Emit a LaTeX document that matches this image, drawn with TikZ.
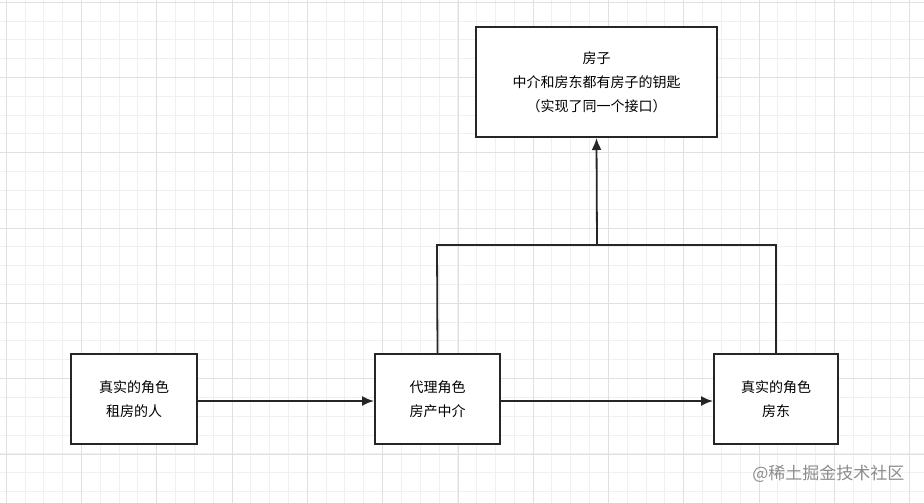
\documentclass[tikz,border=0pt]{standalone}
\usepackage{fontspec}
\setmainfont{Noto Sans CJK SC}
\usetikzlibrary{arrows.meta}
\begin{document}
\begin{tikzpicture}[x=1pt,y=-1pt,
  box/.style={draw=black!85,line width=2pt,fill=white,align=center,font=\fontsize{14}{24}\selectfont,inner sep=0pt},
  conn/.style={draw=black!85,line width=1.8pt},
  arr/.style={conn,-{Latex[length=12pt,width=10pt]}}]
\fill[white] (0,0) rectangle (924,503);
\useasboundingbox (0,0) rectangle (924,503);
\foreach \i in {0,...,50} {\draw[black!6,line width=0.6pt] ({6+18.82*\i},0) -- ++(0,503);}
\foreach \i in {0,...,27} {\draw[black!6,line width=0.6pt] (0,{2+18.82*\i}) -- ++(924,0);}
\foreach \i in {0,...,12} {\draw[black!12,line width=0.6pt] ({6+75.3*\i},0) -- ++(0,503);}
\foreach \i in {0,...,6} {\draw[black!12,line width=0.6pt] (0,{2+75.3*\i}) -- ++(924,0);}
\node[box,minimum width=241pt,minimum height=110pt] (top) at (596.5,82) {房子\\中介和房东都有房子的钥匙\\（实现了同一个接口）};
\node[box,minimum width=126pt,minimum height=90pt] (l) at (134,399) {真实的角色\\租房的人};
\node[box,minimum width=125pt,minimum height=90pt] (m) at (437.5,399) {代理角色\\房产中介};
\node[box,minimum width=124pt,minimum height=90pt] (r) at (776,399) {真实的角色\\房东};
\coordinate (j) at (597,245);
\draw[arr] (l.east |- 0,401) -- (m.west |- 0,401);
\draw[arr] (m.east |- 0,401) -- (r.west |- 0,401);
\draw[conn] (m.north) -- (437,245) -- (776,245) -- (r.north);
\draw[arr] (j) -- (top.south);
\node[text=black!45,font=\fontsize{17}{20}\selectfont,anchor=east] (wm) at (908,474) {@稀土掘金技术社区};
\end{tikzpicture}
\end{document}
